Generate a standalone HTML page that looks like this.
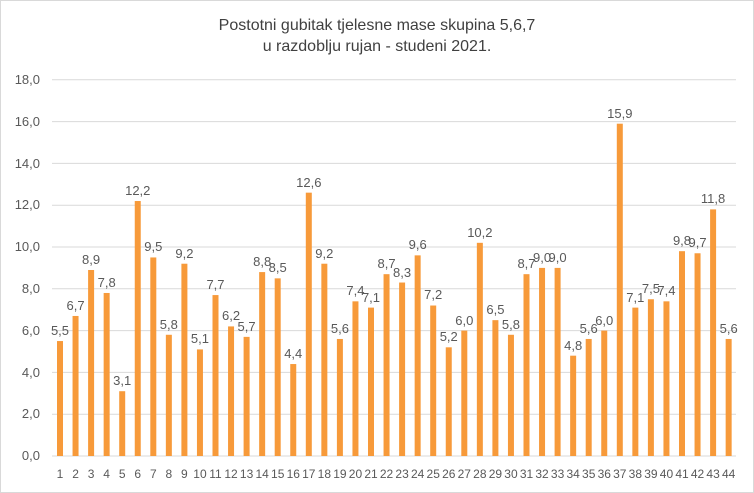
<!DOCTYPE html>
<html><head><meta charset="utf-8"><style>
html,body{margin:0;padding:0;background:#fff}
svg{display:block}
text{font-family:"Liberation Sans",Calibri,sans-serif;fill:#595959}
.v{font-size:13px;text-anchor:middle}
.c{font-size:12px;text-anchor:middle}
.y{font-size:13px;text-anchor:end}
rect.b{fill:#F79A3A}
</style></head><body>
<svg width="754" height="493" viewBox="0 0 754 493">
<rect x="0.5" y="0.5" width="753" height="492" fill="#fff" stroke="#d9d9d9"/>
<text x="377" y="30" style="font-size:16px;text-anchor:middle;fill:#404040">Postotni gubitak tjelesne mase skupina 5,6,7</text>
<text x="377" y="51" style="font-size:16px;text-anchor:middle;fill:#404040">u razdoblju rujan - studeni 2021.</text>
<g stroke="#d9d9d9" stroke-width="1">
<line x1="52" x2="736" y1="79.8" y2="79.8"/>
<line x1="52" x2="736" y1="121.6" y2="121.6"/>
<line x1="52" x2="736" y1="163.4" y2="163.4"/>
<line x1="52" x2="736" y1="205.2" y2="205.2"/>
<line x1="52" x2="736" y1="247" y2="247"/>
<line x1="52" x2="736" y1="288.8" y2="288.8"/>
<line x1="52" x2="736" y1="330.6" y2="330.6"/>
<line x1="52" x2="736" y1="372.4" y2="372.4"/>
<line x1="52" x2="736" y1="414.2" y2="414.2"/>
<line x1="52" x2="736" y1="456" y2="456"/>
</g>
<g class="yl">
<text class="y" x="40" y="460">0,0</text>
<text class="y" x="40" y="418">2,0</text>
<text class="y" x="40" y="377">4,0</text>
<text class="y" x="40" y="335">6,0</text>
<text class="y" x="40" y="293">8,0</text>
<text class="y" x="40" y="251">10,0</text>
<text class="y" x="40" y="209">12,0</text>
<text class="y" x="40" y="168">14,0</text>
<text class="y" x="40" y="126">16,0</text>
<text class="y" x="40" y="84">18,0</text>
</g>
<g>
<rect class="b" x="57" y="341.05" width="6" height="114.95"/>
<rect class="b" x="72.55" y="315.97" width="6" height="140.03"/>
<rect class="b" x="88.1" y="269.99" width="6" height="186.01"/>
<rect class="b" x="103.65" y="292.98" width="6" height="163.02"/>
<rect class="b" x="119.2" y="391.21" width="6" height="64.79"/>
<rect class="b" x="134.75" y="201.02" width="6" height="254.98"/>
<rect class="b" x="150.3" y="257.45" width="6" height="198.55"/>
<rect class="b" x="165.85" y="334.78" width="6" height="121.22"/>
<rect class="b" x="181.4" y="263.72" width="6" height="192.28"/>
<rect class="b" x="196.95" y="349.41" width="6" height="106.59"/>
<rect class="b" x="212.5" y="295.07" width="6" height="160.93"/>
<rect class="b" x="228.05" y="326.42" width="6" height="129.58"/>
<rect class="b" x="243.6" y="336.87" width="6" height="119.13"/>
<rect class="b" x="259.15" y="272.08" width="6" height="183.92"/>
<rect class="b" x="274.7" y="278.35" width="6" height="177.65"/>
<rect class="b" x="290.25" y="364.04" width="6" height="91.96"/>
<rect class="b" x="305.8" y="192.66" width="6" height="263.34"/>
<rect class="b" x="321.35" y="263.72" width="6" height="192.28"/>
<rect class="b" x="336.9" y="338.96" width="6" height="117.04"/>
<rect class="b" x="352.45" y="301.34" width="6" height="154.66"/>
<rect class="b" x="368" y="307.61" width="6" height="148.39"/>
<rect class="b" x="383.55" y="274.17" width="6" height="181.83"/>
<rect class="b" x="399.1" y="282.53" width="6" height="173.47"/>
<rect class="b" x="414.65" y="255.36" width="6" height="200.64"/>
<rect class="b" x="430.2" y="305.52" width="6" height="150.48"/>
<rect class="b" x="445.75" y="347.32" width="6" height="108.68"/>
<rect class="b" x="461.3" y="330.6" width="6" height="125.4"/>
<rect class="b" x="476.85" y="242.82" width="6" height="213.18"/>
<rect class="b" x="492.4" y="320.15" width="6" height="135.85"/>
<rect class="b" x="507.95" y="334.78" width="6" height="121.22"/>
<rect class="b" x="523.5" y="274.17" width="6" height="181.83"/>
<rect class="b" x="539.05" y="267.9" width="6" height="188.1"/>
<rect class="b" x="554.6" y="267.9" width="6" height="188.1"/>
<rect class="b" x="570.15" y="355.68" width="6" height="100.32"/>
<rect class="b" x="585.7" y="338.96" width="6" height="117.04"/>
<rect class="b" x="601.25" y="330.6" width="6" height="125.4"/>
<rect class="b" x="616.8" y="123.69" width="6" height="332.31"/>
<rect class="b" x="632.35" y="307.61" width="6" height="148.39"/>
<rect class="b" x="647.9" y="299.25" width="6" height="156.75"/>
<rect class="b" x="663.45" y="301.34" width="6" height="154.66"/>
<rect class="b" x="679" y="251.18" width="6" height="204.82"/>
<rect class="b" x="694.55" y="253.27" width="6" height="202.73"/>
<rect class="b" x="710.1" y="209.38" width="6" height="246.62"/>
<rect class="b" x="725.65" y="338.96" width="6" height="117.04"/>
</g>
<g>
<text class="v" x="60" y="335">5,5</text>
<text class="v" x="75.55" y="310">6,7</text>
<text class="v" x="91.1" y="264">8,9</text>
<text class="v" x="106.65" y="287">7,8</text>
<text class="v" x="122.2" y="385">3,1</text>
<text class="v" x="137.75" y="195">12,2</text>
<text class="v" x="153.3" y="251">9,5</text>
<text class="v" x="168.85" y="329">5,8</text>
<text class="v" x="184.4" y="258">9,2</text>
<text class="v" x="199.95" y="343">5,1</text>
<text class="v" x="215.5" y="289">7,7</text>
<text class="v" x="231.05" y="320">6,2</text>
<text class="v" x="246.6" y="331">5,7</text>
<text class="v" x="262.15" y="266">8,8</text>
<text class="v" x="277.7" y="272">8,5</text>
<text class="v" x="293.25" y="358">4,4</text>
<text class="v" x="308.8" y="187">12,6</text>
<text class="v" x="324.35" y="258">9,2</text>
<text class="v" x="339.9" y="333">5,6</text>
<text class="v" x="355.45" y="295">7,4</text>
<text class="v" x="371" y="302">7,1</text>
<text class="v" x="386.55" y="268">8,7</text>
<text class="v" x="402.1" y="277">8,3</text>
<text class="v" x="417.65" y="249">9,6</text>
<text class="v" x="433.2" y="299">7,2</text>
<text class="v" x="448.75" y="341">5,2</text>
<text class="v" x="464.3" y="325">6,0</text>
<text class="v" x="479.85" y="237">10,2</text>
<text class="v" x="495.4" y="314">6,5</text>
<text class="v" x="510.95" y="329">5,8</text>
<text class="v" x="526.5" y="268">8,7</text>
<text class="v" x="542.05" y="262">9,0</text>
<text class="v" x="557.6" y="262">9,0</text>
<text class="v" x="573.15" y="350">4,8</text>
<text class="v" x="588.7" y="333">5,6</text>
<text class="v" x="604.25" y="325">6,0</text>
<text class="v" x="619.8" y="118">15,9</text>
<text class="v" x="635.35" y="302">7,1</text>
<text class="v" x="650.9" y="293">7,5</text>
<text class="v" x="666.45" y="295">7,4</text>
<text class="v" x="682" y="245">9,8</text>
<text class="v" x="697.55" y="247">9,7</text>
<text class="v" x="713.1" y="203">11,8</text>
<text class="v" x="728.65" y="333">5,6</text>
</g>
<g>
<text class="c" x="60" y="478">1</text>
<text class="c" x="75.55" y="478">2</text>
<text class="c" x="91.1" y="478">3</text>
<text class="c" x="106.65" y="478">4</text>
<text class="c" x="122.2" y="478">5</text>
<text class="c" x="137.75" y="478">6</text>
<text class="c" x="153.3" y="478">7</text>
<text class="c" x="168.85" y="478">8</text>
<text class="c" x="184.4" y="478">9</text>
<text class="c" x="199.95" y="478">10</text>
<text class="c" x="215.5" y="478">11</text>
<text class="c" x="231.05" y="478">12</text>
<text class="c" x="246.6" y="478">13</text>
<text class="c" x="262.15" y="478">14</text>
<text class="c" x="277.7" y="478">15</text>
<text class="c" x="293.25" y="478">16</text>
<text class="c" x="308.8" y="478">17</text>
<text class="c" x="324.35" y="478">18</text>
<text class="c" x="339.9" y="478">19</text>
<text class="c" x="355.45" y="478">20</text>
<text class="c" x="371" y="478">21</text>
<text class="c" x="386.55" y="478">22</text>
<text class="c" x="402.1" y="478">23</text>
<text class="c" x="417.65" y="478">24</text>
<text class="c" x="433.2" y="478">25</text>
<text class="c" x="448.75" y="478">26</text>
<text class="c" x="464.3" y="478">27</text>
<text class="c" x="479.85" y="478">28</text>
<text class="c" x="495.4" y="478">29</text>
<text class="c" x="510.95" y="478">30</text>
<text class="c" x="526.5" y="478">31</text>
<text class="c" x="542.05" y="478">32</text>
<text class="c" x="557.6" y="478">33</text>
<text class="c" x="573.15" y="478">34</text>
<text class="c" x="588.7" y="478">35</text>
<text class="c" x="604.25" y="478">36</text>
<text class="c" x="619.8" y="478">37</text>
<text class="c" x="635.35" y="478">38</text>
<text class="c" x="650.9" y="478">39</text>
<text class="c" x="666.45" y="478">40</text>
<text class="c" x="682" y="478">41</text>
<text class="c" x="697.55" y="478">42</text>
<text class="c" x="713.1" y="478">43</text>
<text class="c" x="728.65" y="478">44</text>
</g>
</svg>
</body></html>
